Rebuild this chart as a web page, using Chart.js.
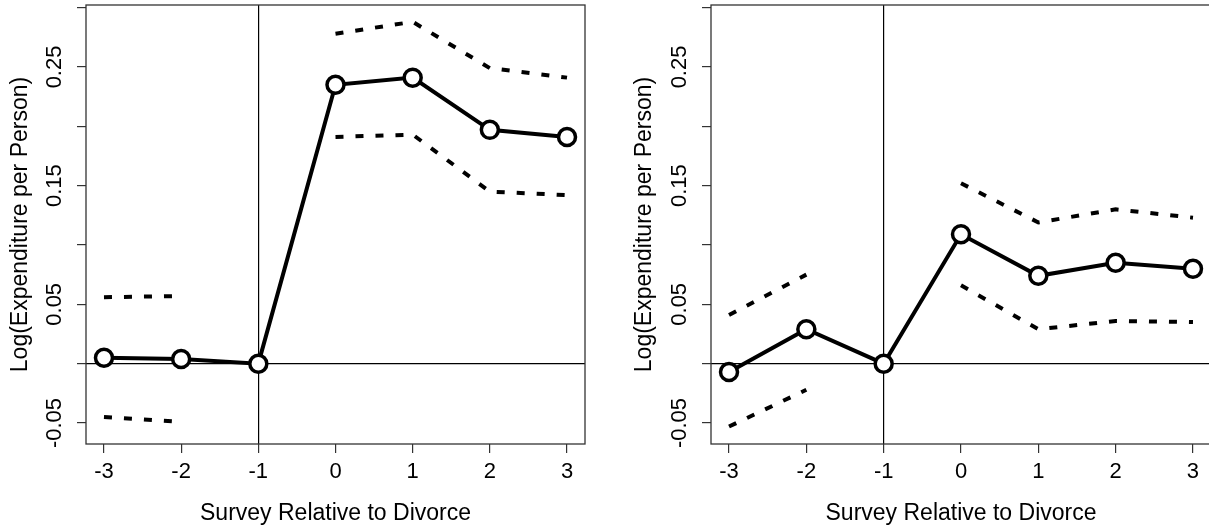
<!DOCTYPE html>
<html>
<head>
<meta charset="utf-8">
<script src="https://cdn.jsdelivr.net/npm/chart.js@4.4.0/dist/chart.umd.min.js"></script>
<style>
  html, body { margin: 0; padding: 0; background: #fff; overflow: hidden; width: 1209px; height: 529px; }
  canvas { position: absolute; top: 0; }
  #left { left: 0; }
  #right { left: 624px; }
</style>
</head>
<body>
<canvas id="left" width="604" height="529"></canvas>
<canvas id="right" width="605" height="529"></canvas>
<script>
// survey relative to divorce
const surveys = [-3, -2, -1, 0, 1, 2, 3];
const yTicks = [-0.05, 0, 0.05, 0.1, 0.15, 0.2, 0.25, 0.3];
const yLabelled = [-0.05, 0.05, 0.15, 0.25];

// left panel
const leftEst = [0.005, 0.004, 0, 0.235, 0.241, 0.197, 0.191];
const leftUpper = [0.056, 0.057, null, 0.278, 0.288, 0.249, 0.241];
const leftLower = [-0.045, -0.049, null, 0.191, 0.193, 0.145, 0.142];

// right panel
const rightEst = [-0.007, 0.029, 0, 0.109, 0.074, 0.085, 0.080];
const rightUpper = [0.041, 0.075, null, 0.152, 0.119, 0.130, 0.123];
const rightLower = [-0.053, -0.022, null, 0.066, 0.029, 0.036, 0.035];

const FONT = "'Liberation Sans', Arial, sans-serif";

// R style box round the plot region
const boxPlugin = {
    id: 'box',
    afterDatasetsDraw(chart) {
        const { ctx, chartArea: a } = chart;
        ctx.save();
        ctx.strokeStyle = '#333';
        ctx.lineWidth = 1.3;
        ctx.strokeRect(a.left, a.top, a.right - a.left, a.bottom - a.top);
        ctx.restore();
    }
};

function makePanel(id, est, upper, lower, axisWidth, padRight) {
    const pts = arr => surveys.map((s, i) => ({ x: s, y: arr[i] }));
    const dashed = arr => ({
        data: pts(arr), borderColor: '#000', borderWidth: 4, borderDash: [8, 12],
        pointRadius: 0, fill: false, tension: 0, order: 2
    });

    new Chart(document.getElementById(id), {
        type: 'line',
        data: {
            datasets: [
                {
                    data: pts(est), borderColor: '#000', borderWidth: 4,
                    pointRadius: 8.5, pointBorderWidth: 3.5,
                    pointBackgroundColor: '#fff', pointBorderColor: '#000', order: 1
                },
                dashed(upper),
                dashed(lower)
            ]
        },
        options: {
            responsive: false,
            animation: false,
            layout: { autoPadding: false, padding: { top: 5, right: padRight, left: 0, bottom: 0 } },
            plugins: { legend: { display: false }, tooltip: { enabled: false } },
            scales: {
                x: {
                    type: 'linear', min: -3.233, max: 3.233,
                    afterBuildTicks: s => { s.ticks = surveys.map(v => ({ value: v })); },
                    afterFit: s => { s.height = 85; s.paddingLeft = 0; s.paddingRight = 0; },
                    grid: {
                        color: c => (c.tick && c.tick.value === -1) ? '#000' : 'rgba(0,0,0,0)',
                        lineWidth: 1.2, tickColor: '#333', tickLength: 9
                    },
                    border: { display: false },
                    ticks: { color: '#000', font: { family: FONT, size: 22 }, padding: 6, maxRotation: 0,
                             callback: v => String(v) },
                    title: { display: true, text: 'Survey Relative to Divorce', color: '#000',
                             font: { family: FONT, size: 23 }, padding: { top: 0, bottom: 2 } }
                },
                y: {
                    type: 'linear', min: -0.0677, max: 0.3022,
                    afterBuildTicks: s => { s.ticks = yTicks.map(v => ({ value: v })); },
                    afterFit: s => { s.width = axisWidth; s.paddingTop = 0; s.paddingBottom = 0; },
                    grid: {
                        color: c => (c.tick && c.tick.value === 0) ? '#000' : 'rgba(0,0,0,0)',
                        lineWidth: 1.2, tickColor: '#333', tickLength: 9
                    },
                    border: { display: false },
                    ticks: { color: '#000', font: { family: FONT, size: 22 }, minRotation: 90, maxRotation: 90,
                             crossAlign: 'center', padding: -3.5,
                             callback: v => yLabelled.includes(v) ? v.toFixed(2) : '' },
                    title: { display: true, text: 'Log(Expenditure per Person)', color: '#000',
                             font: { family: FONT, size: 23 }, padding: { top: 6.5, bottom: 0 } }
                }
            }
        },
        plugins: [boxPlugin]
    });
}

makePanel('left', leftEst, leftUpper, leftLower, 86, 19);
makePanel('right', rightEst, rightUpper, rightLower, 87, 18);
</script>
</body>
</html>
